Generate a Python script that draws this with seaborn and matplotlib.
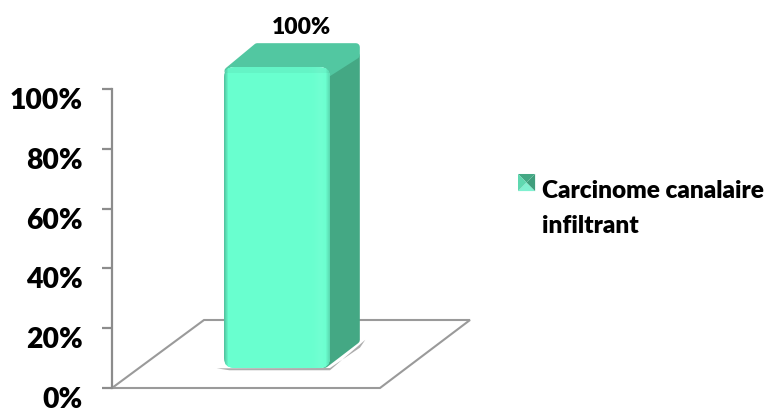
import numpy as np
import pandas as pd
import matplotlib
matplotlib.use("Agg")
import matplotlib.pyplot as plt
import seaborn as sns
from matplotlib.patches import FancyBboxPatch, Polygon, Patch
from matplotlib.legend_handler import HandlerBase
from matplotlib.transforms import ScaledTranslation

categories = ["Carcinome canalaire\ninfiltrant"]
values = [100]
y_ticks = [0, 20, 40, 60, 80, 100]
y_labels = ["0%", "20%", "40%", "60%", "80%", "100%"]

W, H = 768, 409
FRONT = "#69FFCF"
TOP = "#52C7A1"
SIDE = "#44A884"
GREY = "#8C8C8C"
WEIGHT = "heavy"

sns.set_theme(style="white")
plt.rcParams["font.family"] = ["Lato", "DejaVu Sans"]

fig = plt.figure(figsize=(W / 100, H / 100), dpi=100, facecolor="white")

def rect(x0, ytop, x1, ybot):
    return [x0 / W, 1 - ybot / H, (x1 - x0) / W, (ybot - ytop) / H]

# value axis and floor
ax = fig.add_axes(rect(112, 89, 470, 388))
ax.set_xlim(112, 470)
ax.set_ylim(0, 100)
ax.patch.set_alpha(0)
for s in ["top", "right", "bottom"]:
    ax.spines[s].set_visible(False)
ax.spines["left"].set_color(GREY)
ax.spines["left"].set_linewidth(1.6)
ax.set_xticks([])
ax.set_yticks(y_ticks, y_labels, fontsize=20.3, fontweight=WEIGHT, color="black")
ax.tick_params(axis="y", left=True, length=7, width=1.6, color=GREY, pad=14)
shift = ScaledTranslation(0, -9.5 / 100, fig.dpi_scale_trans)
for lab in ax.get_yticklabels():
    lab.set_transform(lab.get_transform() + shift)
    lab.set_verticalalignment("center_baseline")

px_y = lambda p: (388 - p) / 299 * 100
floor = Polygon([(112, 0), (380, 0), (470, px_y(320)), (204, px_y(320))], closed=True,
                fill=False, edgecolor="#9A9A9A", linewidth=1.5, clip_on=False, zorder=1)
ax.add_patch(floor)

# the bar itself: front face lies on its own axes, lifted onto the floor
ax2 = fig.add_axes(rect(224, 67, 330, 368), zorder=3)
df = pd.DataFrame({"type": categories, "pct": values})
sns.barplot(data=df, x="type", y="pct", color=FRONT, saturation=1, width=1.0, ax=ax2, zorder=4)
ax2.set_xlim(-0.5, 0.5)
ax2.set_ylim(0, 100)
ax2.axis("off")
bar = ax2.patches[0]

v = values[0]
dx = 30 / 106
dy = 24 / 301 * 100
ix = 4 / 106      # inset that the round joins grow back
iy = 4 / 301 * 100
# shadow, side and top faces
ax2.add_patch(Polygon([(-0.57, -0.1), (-0.45, -0.75), (0.5, -0.75), (0.5 + dx + 0.05, dy + 1.4), (0.5 + dx, dy - 1.2), (0.5, 0)],
                      closed=True, facecolor="#ADADAD", edgecolor="none",
                      clip_on=False, zorder=1))
ax2.add_patch(Polygon([(0.45, iy), (0.5 + dx - ix, dy + iy), (0.5 + dx - ix, v + dy - iy - 3), (0.45, v - 3)], closed=True,
                      facecolor=SIDE, edgecolor=SIDE, linewidth=5.5, joinstyle="round", clip_on=False, zorder=2))
ax2.add_patch(Polygon([(-0.46, v - iy), (-0.5 + dx + 0.03, v + dy - iy), (0.5 + dx - ix, v + dy - iy),
                       (0.5 + dx - ix, v + dy - 3 * iy), (0.45, v - 2 * iy)],
                      closed=True, facecolor=TOP, edgecolor=TOP, linewidth=5.5, joinstyle="round",
                      clip_on=False, zorder=3))

# rounded front with soft edge shading
round_box = FancyBboxPatch((-0.5 + 0.1, 3.3), 1 - 0.2, v - 6.6,
                           boxstyle="round,pad=0.1,rounding_size=0.1", mutation_aspect=33,
                           transform=ax2.transData, facecolor="none", edgecolor="none")
ax2.add_patch(round_box)
bar.set_clip_path(round_box)
bar.set_clip_on(True)

nx = 106
shade_x = np.ones(nx)
shade_x[:5] = np.linspace(0.78, 1, 5)
shade_x[-5:] = np.linspace(1, 0.86, 5)
glow = np.exp(-((np.arange(nx) - 96) / 6.0) ** 2) * 0.05
rgb0 = np.array(matplotlib.colors.to_rgb(FRONT))
img = np.zeros((301, nx, 3))
for c in range(3):
    img[:, :, c] = rgb0[c] * shade_x + glow * (1 - rgb0[c])
img[:6] = np.clip(img[:6] * 0.96, 0, 1)
im = ax2.imshow(img, extent=(-0.5, 0.5, 0, 100), aspect="auto", zorder=5, interpolation="bilinear")
im.set_clip_path(round_box)
ax2.set_xlim(-0.5, 0.5)
ax2.set_ylim(0, 100)

# value label
ax2.annotate(f"{v}%", xy=(0, v), xytext=(24, 40), textcoords="offset pixels", ha="center", va="center",
             fontsize=16.5, fontweight=WEIGHT, color="black", annotation_clip=False)

# legend with a small pyramid key, raised to the first text line
class PyramidHandler(HandlerBase):
    def create_artists(self, legend, orig, xd, yd, w, h, fs, trans):
        x0, y0 = -xd, -yd + 19
        cx, cy = x0 + w / 2, y0 + h / 2
        corners = [(x0, y0), (x0 + w, y0), (x0 + w, y0 + h), (x0, y0 + h)]
        cols = ["#80F0D0", "#3F9E7C", "#44A884", "#5FD8B0"]
        out = []
        for i in range(4):
            a, b = corners[i], corners[(i + 1) % 4]
            out.append(Polygon([a, b, (cx, cy)], closed=True, facecolor=cols[i], edgecolor="none", transform=trans))
        return out

leg = fig.legend([Patch(color=FRONT)], categories, handler_map={Patch: PyramidHandler()},
                 loc="upper left", bbox_to_anchor=(518 / W, 1 - 180 / H), frameon=False,
                 prop={"family": "Lato", "weight": WEIGHT, "size": 17.6},
                 handlelength=0.7, handleheight=0.7, handletextpad=0.3, labelspacing=0, borderpad=0, borderaxespad=0)
for t in leg.get_texts():
    t.set_color("black")
    t.set_linespacing(1.72)

fig.savefig("out.png", dpi=100, facecolor="white")
